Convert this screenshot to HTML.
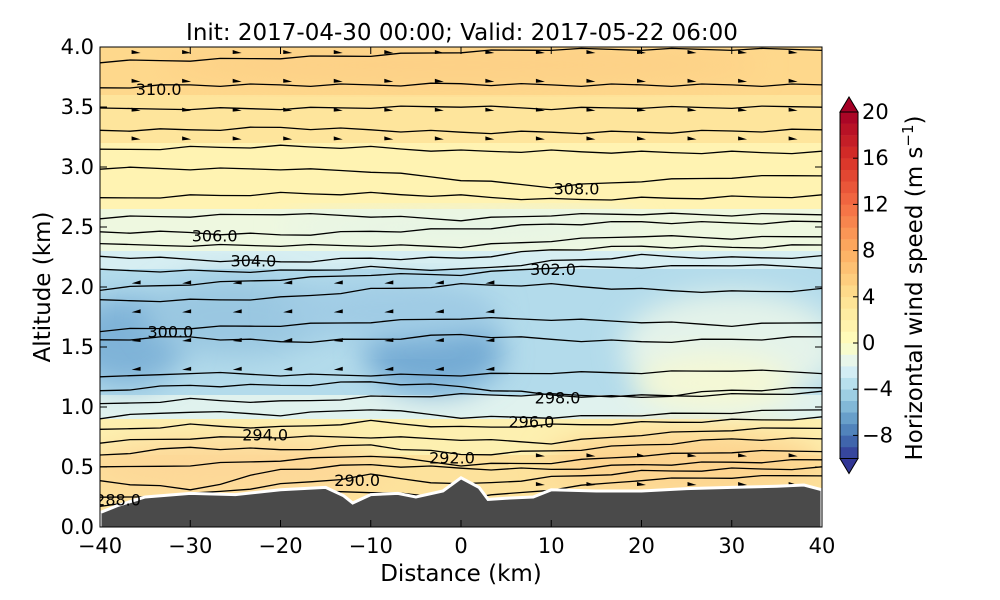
<!DOCTYPE html>
<html><head><meta charset="utf-8"><style>
html,body{margin:0;padding:0;background:#fff;overflow:hidden;width:1000px;height:600px}
svg{display:block}
svg text{font-family:"DejaVu Sans","Liberation Sans",sans-serif}
</style></head><body>
<svg id="c" width="1000" height="600" xmlns="http://www.w3.org/2000/svg">
<defs>
<filter id="bl" x="-30%" y="-30%" width="160%" height="160%"><feGaussianBlur stdDeviation="14"/></filter>
<clipPath id="pc"><rect x="100" y="47" width="722" height="480"/></clipPath>
</defs>
<text x="462" y="40" font-size="23" text-anchor="middle">Init: 2017-04-30 00:00; Valid: 2017-05-22 06:00</text>
<g id="plot" clip-path="url(#pc)"></g>
<rect x="100" y="47" width="722" height="480" fill="none" stroke="#000" stroke-width="1"/>
<g id="axes"></g>
<g id="cbar"></g>
<text transform="translate(922,288) rotate(-90)" font-size="23" text-anchor="middle">Horizontal wind speed (m s<tspan baseline-shift="super" font-size="15">−1</tspan>)</text>
<text x="461" y="581" font-size="23" text-anchor="middle">Distance (km)</text>
<text transform="translate(50,287) rotate(-90)" font-size="23" text-anchor="middle">Altitude (km)</text>
</svg>
<script>
const xSamples=[-40,-30,-20,-10,0,10,20,30,40];
const contourLines=[
[3.88,3.89,3.91,3.93,3.96,3.98,3.98,3.98,3.98],
[3.66,3.68,3.68,3.68,3.69,3.68,3.68,3.68,3.68],
[3.48,3.49,3.49,3.50,3.51,3.49,3.50,3.50,3.51],
[3.31,3.31,3.33,3.31,3.29,3.29,3.29,3.30,3.31],
[3.14,3.16,3.17,3.16,3.13,3.13,3.12,3.12,3.12],
[2.99,2.98,2.98,2.96,2.89,2.83,2.88,2.91,2.93],
[2.74,2.76,2.78,2.78,2.76,2.73,2.74,2.75,2.76],
[2.58,2.59,2.61,2.59,2.56,2.60,2.61,2.60,2.61],
[2.46,2.45,2.43,2.46,2.48,2.52,2.54,2.53,2.54],
[2.35,2.35,2.35,2.35,2.34,2.39,2.43,2.41,2.43],
[2.26,2.23,2.21,2.24,2.24,2.31,2.34,2.33,2.35],
[2.14,2.13,2.13,2.16,2.14,2.21,2.26,2.24,2.25],
[1.98,2.02,2.06,2.10,2.10,2.16,2.16,2.18,2.16],
[1.89,1.89,1.91,1.98,2.02,2.02,1.98,1.96,1.98],
[1.64,1.66,1.68,1.71,1.74,1.73,1.71,1.68,1.71],
[1.56,1.58,1.54,1.56,1.60,1.56,1.54,1.56,1.58],
[1.24,1.29,1.27,1.27,1.27,1.29,1.29,1.31,1.29],
[1.14,1.18,1.18,1.21,1.17,1.10,1.08,1.14,1.16],
[1.02,1.06,1.04,1.08,1.10,1.10,1.09,1.10,1.12],
[0.91,0.96,0.93,0.98,0.91,0.91,0.93,0.95,0.98],
[0.81,0.85,0.83,0.88,0.83,0.85,0.87,0.89,0.91],
[0.71,0.74,0.75,0.75,0.73,0.70,0.77,0.81,0.83],
[0.60,0.66,0.64,0.68,0.60,0.63,0.68,0.73,0.73],
[0.49,0.52,0.56,0.60,0.52,0.54,0.60,0.63,0.64],
[0.39,0.31,0.48,0.52,0.49,0.48,0.52,0.54,0.56],
[0.24,0.27,0.35,0.43,0.35,0.41,0.46,0.48,0.49],
[0.18,0.22,0.29,0.29,0.23,0.31,0.39,0.41,0.43]];
const terrainX=[-40,-38,-35,-30,-25,-20,-15,-13,-12,-10,-7,-5,-2,0,2,3,5,8,10,15,20,25,30,35,38,40];
const terrainZ=[0.12,0.18,0.25,0.28,0.27,0.31,0.33,0.26,0.20,0.27,0.28,0.25,0.30,0.41,0.33,0.23,0.24,0.25,0.31,0.30,0.30,0.32,0.33,0.34,0.35,0.31];
const labelText=["310.0","308.0","306.0","304.0","302.0","300.0","298.0","296.0","294.0","292.0","290.0","288.0"];
const labelX=[-33.5,12.8,-27.3,-23,10.2,-32.2,10.7,7.8,-21.7,-1,-11.5,-38];
const labelZ=[3.65,2.82,2.43,2.22,2.15,1.63,1.08,0.88,0.77,0.58,0.39,0.23];
const cbTicks=[-8,-4,0,4,8,12,16,20];
const xTicks=[-40,-30,-20,-10,0,10,20,30,40];
const yTicks=[0,0.5,1,1.5,2,2.5,3,3.5,4];
const X=v=>100+(v+40)*722/80, Y=z=>527-z*120;
const NS='http://www.w3.org/2000/svg';
function mk(t,a,p){const e=document.createElementNS(NS,t);for(const k in a)e.setAttribute(k,a[k]);p.appendChild(e);return e;}
const plot=document.getElementById('plot');
const bands=[[4.0,3.6,'#fed88c'],[3.6,3.2,'#fee59c'],[3.2,2.65,'#fff3b2'],[2.65,2.3,'#eef8e0'],[2.3,2.15,'#d6eef2'],[2.15,1.1,'#b3dbeb'],[1.1,0.9,'#e0f2ee'],[0.9,0.6,'#fdf0b0'],[0.6,0.0,'#fde29c']];
bands.forEach(b=>{const r=mk('rect',{x:100,y:Y(b[0]),width:722,height:(b[0]-b[1])*120,fill:b[2]},plot);

});
const blobs=[[-37,1.55,60,45,'#7fb3d8'],[-25,1.75,90,40,'#9ac7e1'],[-3,1.45,70,40,'#74abd4'],[-8,1.8,110,30,'#a0cce5'],[30,1.5,110,55,'#e4f3ea'],[28,1.2,80,30,'#f4f8d6'],[-25,0.5,150,30,'#fdd898'],[25,0.55,140,30,'#fdd38e'],[0,2.5,180,15,'#e6f4e6'],[0,3.85,300,20,'#fdd086']];
blobs.forEach(b=>{const e=mk('ellipse',{cx:X(b[0]),cy:Y(b[1]),rx:b[2],ry:b[3],fill:b[4],filter:'url(#bl)'},plot);

});
contourLines.forEach((ln,i)=>{let d='';
 for(let k=0;k<xSamples.length-1;k++){const x0=xSamples[k],x1=xSamples[k+1];
  for(let s=0;s<=3;s++){if(k>0&&s==0)continue;const t=s/3;const x=x0+(x1-x0)*t;
   const z=ln[k]+(ln[k+1]-ln[k])*t+(((k*7+s*5+i*3)%7)-3)*0.004;
   d+=(d?'L':'M')+X(x).toFixed(1)+','+Y(z).toFixed(1);}}
 const p=mk('path',{d:d,fill:'none',stroke:'#000','stroke-width':1.3},plot);
 
 });
for(let zi=0;zi<16;zi++){const z=3.95-zi*0.24;
 for(let xi=0;xi<14;xi++){const x=-36+xi*5.6;
  const dir=(z>1.1&&z<2.4&&x<20)?-1:1; const big=(z>3.1||(z>1.2&&z<2.2&&x<5)||(z<0.8&&x>5));
  if(!big)continue; const px=X(x),py=Y(z),L=9*dir;
  const a=mk('polygon',{points:`${px-L/2},${py+1} ${px+L/2},${py} ${px-L/2},${py-3}`,fill:'#000'},plot);
  
  }}
let td=`M${X(-40)},${Y(-1)}`;terrainX.forEach((x,i)=>td+=`L${X(x)},${Y(terrainZ[i])}`);td+=`L${X(40)},${Y(-1)}Z`;
const tr=mk('path',{d:td,fill:'#4a4a4a',stroke:'#fff','stroke-width':3},plot);


labelText.forEach((t,i)=>{const e=mk('text',{x:X(labelX[i]),y:Y(labelZ[i])+6,'font-size':16,'text-anchor':'middle'},plot);e.textContent=t;

});
const ax=document.getElementById('axes');
xTicks.forEach(v=>{mk('line',{x1:X(v),x2:X(v),y1:527,y2:520,stroke:'#000'},ax);mk('line',{x1:X(v),x2:X(v),y1:47,y2:54,stroke:'#000'},ax);
 const t=mk('text',{x:X(v),y:553,'font-size':21,'text-anchor':'middle'},ax);t.textContent=v<0?'−'+(-v):v;
 
 });
yTicks.forEach(v=>{mk('line',{x1:100,x2:107,y1:Y(v),y2:Y(v),stroke:'#000'},ax);mk('line',{x1:822,x2:815,y1:Y(v),y2:Y(v),stroke:'#000'},ax);
 const t=mk('text',{x:94,y:Y(v)+7,'font-size':21,'text-anchor':'end'},ax);t.textContent=v.toFixed(1);
 
 });
const cb=document.getElementById('cbar');
const cols=['#313695','#4575b4','#74add1','#abd9e9','#e0f3f8','#ffffbf','#fee090','#fdae61','#f46d43','#d73027','#a50026'];
const cv=[-10,-8,-6,-4,-2,0,4,8,12,16,20];
function col(v){for(let i=0;i<cv.length-1;i++){if(v<=cv[i+1]){const t=(v-cv[i])/(cv[i+1]-cv[i]);const a=cols[i],b=cols[i+1];
 const c=[1,3,5].map(j=>Math.round(parseInt(a.substr(j,2),16)*(1-t)+parseInt(b.substr(j,2),16)*t));return `rgb(${c})`;}}return cols[10];}
const CY=v=>343-v*11.55;
for(let v=-10;v<20;v+=1){mk('rect',{x:840,y:CY(v+1),width:18,height:11.8,fill:col(v+0.5)},cb);}
mk('polygon',{points:`840,${CY(20)} 858,${CY(20)} 849,${CY(20)-15}`,fill:'#a50026',stroke:'#000'},cb);
mk('polygon',{points:`840,${CY(-10)} 858,${CY(-10)} 849,${CY(-10)+15}`,fill:'#313695',stroke:'#000'},cb);
mk('rect',{x:840,y:CY(20),width:18,height:CY(-10)-CY(20),fill:'none',stroke:'#000'},cb);
cbTicks.forEach(v=>{mk('line',{x1:853,x2:858,y1:CY(v),y2:CY(v),stroke:'#000'},cb);
 const t=mk('text',{x:862,y:CY(v)+7,'font-size':21},cb);t.textContent=v<0?'−'+(-v):v;
 
 });
</script>
</body></html>
